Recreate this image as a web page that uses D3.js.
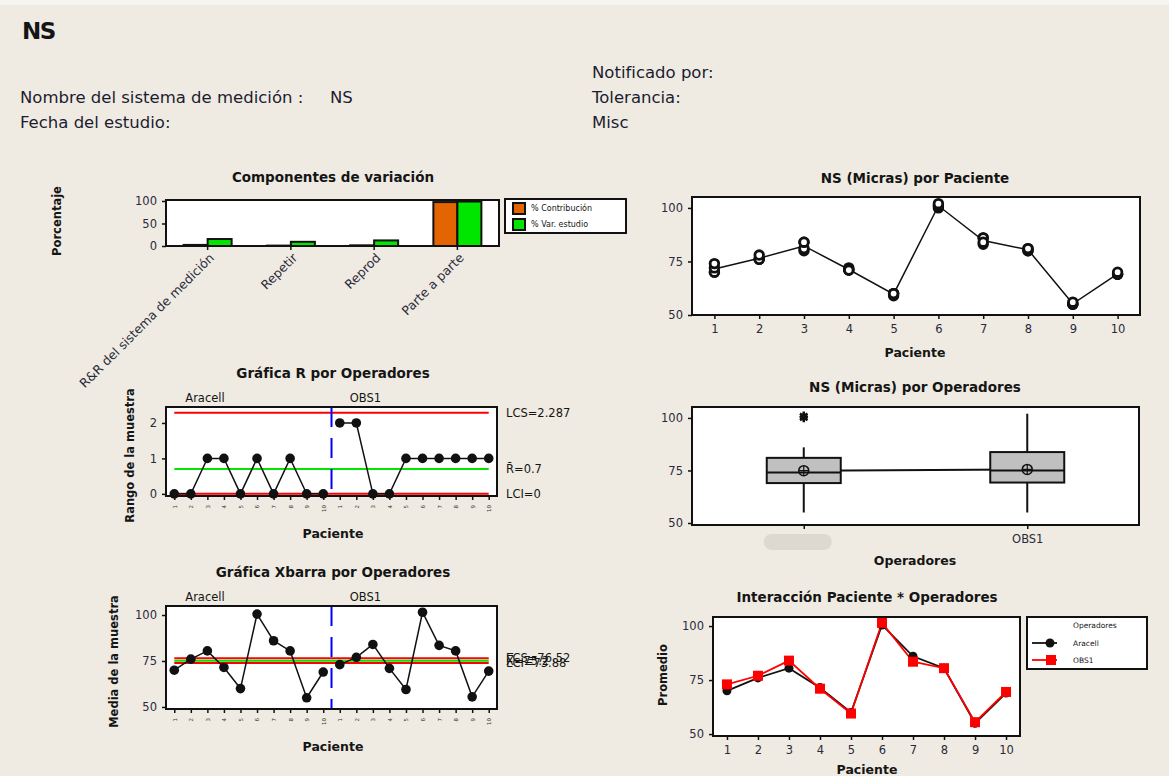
<!DOCTYPE html>
<html lang="es">
<head>
<meta charset="UTF-8"/>
<title>NS - Estudio R&amp;R</title>
<script src="https://d3js.org/d3.v7.min.js"></script>
<style>
  body { margin: 0; background: #efebe2; }
  text { font-family: "DejaVu Sans", Verdana, sans-serif; fill: #151515; }
  .tit { font-weight: bold; font-size: 13.5px; }
  .lab { font-weight: bold; font-size: 12.5px; }
  .tick text { font-size: 11.5px; }
</style>
</head>
<body>
<script>
// ---- datos ----
var pacientes = [1, 2, 3, 4, 5, 6, 7, 8, 9, 10];
var operadores = ["Aracell", "OBS1"];

// dos lecturas por paciente y operador (micras)
var aracellA = [70, 76, 80, 71, 60, 100, 86, 80, 55, 69];
var aracellB = [70, 76, 81, 72, 60, 101, 86, 81, 55, 69];
var obs1A    = [72, 76, 84, 71, 59, 101, 83, 80, 55, 69];
var obs1B    = [74, 78, 84, 71, 60, 102, 84, 81, 56, 70];

// componentes de variacion (%)
var componentes = ["R&R del sistema de medición", "Repetir", "Reprod", "Parte a parte"];
var pctContribucion = [2.4, 0.9, 1.5, 97.6];
var pctVarEstudio = [15.5, 9.3, 12.4, 98.8];

// limites de control
var rLimites = [2.287, 0.7, 0];
var rEtiquetas = ["LCS=2.287", "R\u0304=0.7", "LCI=0"];
var xLimites = [76.52, 75.2, 73.88];
var xEtiquetas = ["LCS=76.52", "X\u033F=75.2", "LCI=73.88"];

// ---- valores derivados ----
var lecturas = [[aracellA, aracellB], [obs1A, obs1B]];
var medias = lecturas.map(function(op) {
  return pacientes.map(function(p, i) { return (op[0][i] + op[1][i]) / 2; });
});
var rangos = lecturas.map(function(op) {
  return pacientes.map(function(p, i) { return Math.abs(op[0][i] - op[1][i]); });
});

var svg = d3.select("body").append("svg")
  .attr("width", 1169).attr("height", 776);

svg.append("rect").attr("width", 1169).attr("height", 776).attr("fill", "#efebe2");
svg.append("rect").attr("width", 1169).attr("height", 5).attr("fill", "#f7f5f0");

// ---- encabezado ----
svg.append("text").attr("x", 22).attr("y", 39)
  .style("font-weight", "bold").style("font-size", "23px").style("letter-spacing", "-1.5px")
  .text("NS");
var hdr = [
  [20, 103, "Nombre del sistema de medición :"], [330, 103, "NS"],
  [20, 128, "Fecha del estudio:"],
  [592, 78, "Notificado por:"], [592, 103, "Tolerancia:"], [592, 128, "Misc"]
];
svg.selectAll("text.hdr").data(hdr).enter().append("text")
  .attr("class", "hdr")
  .attr("x", function(d) { return d[0]; })
  .attr("y", function(d) { return d[1]; })
  .style("font-size", "16.5px").style("fill", "#1c1c30")
  .text(function(d) { return d[2]; });

// ---- utilidades ----
function marco(x0, y0, x1, y1) {
  svg.append("rect").attr("x", x0).attr("y", y0)
    .attr("width", x1 - x0).attr("height", y1 - y0)
    .attr("fill", "white");
}
function borde(x0, y0, x1, y1) {
  svg.append("rect").attr("x", x0).attr("y", y0)
    .attr("width", x1 - x0).attr("height", y1 - y0)
    .attr("fill", "none").attr("stroke", "#111").attr("stroke-width", 2);
}
function titulo(x, y, t) {
  svg.append("text").attr("class", "tit").attr("x", x).attr("y", y)
    .attr("text-anchor", "middle").text(t);
}
function etiqueta(x, y, t) {
  svg.append("text").attr("class", "lab").attr("x", x).attr("y", y)
    .attr("text-anchor", "middle").text(t);
}
function etiquetaY(x, y, t) {
  svg.append("text").attr("class", "lab").style("font-size", "11.5px")
    .attr("transform", "translate(" + x + "," + y + ") rotate(-90)")
    .attr("text-anchor", "middle").attr("dy", "0.35em").text(t);
}
function ejeY(y, x0, ticks) {
  var g = svg.append("g").attr("transform", "translate(" + x0 + ",0)")
    .call(d3.axisLeft(y).tickValues(ticks).tickFormat(d3.format("d")).tickSize(4).tickPadding(5));
  g.select(".domain").remove();
  g.selectAll("line").attr("stroke", "#111").attr("stroke-width", 1.5);
  g.selectAll("text").style("fill", "#2a2a3a");
  return g;
}
function ejeX(x, y0) {
  var g = svg.append("g").attr("transform", "translate(0," + y0 + ")")
    .call(d3.axisBottom(x).tickSize(4).tickPadding(6));
  g.select(".domain").remove();
  g.selectAll("line").attr("stroke", "#111").attr("stroke-width", 1.5);
  g.selectAll("text").style("fill", "#2a2a3a");
  return g;
}

// =========== Componentes de variacion ===========
(function() {
  var x0 = 166, x1 = 499, y0 = 200, y1 = 246;
  marco(x0, y0, x1, y1);
  var x = d3.scaleBand().domain(componentes).range([x0, x1]);
  var y = d3.scaleLinear().domain([0, 102.2]).range([y1, y0]);
  var bw = 24;
  var g = svg.append("g");
  g.selectAll("rect.c").data(pctContribucion).enter().append("rect")
    .attr("x", function(d, i) { return x(componentes[i]) + x.bandwidth() / 2 - bw; })
    .attr("y", function(d) { return y(d); })
    .attr("width", bw).attr("height", function(d) { return y(0) - y(d); })
    .attr("fill", "#e36400").attr("stroke", "#111").attr("stroke-width", 2);
  g.selectAll("rect.v").data(pctVarEstudio).enter().append("rect")
    .attr("x", function(d, i) { return x(componentes[i]) + x.bandwidth() / 2; })
    .attr("y", function(d) { return y(d); })
    .attr("width", bw).attr("height", function(d) { return y(0) - y(d); })
    .attr("fill", "#00e600").attr("stroke", "#111").attr("stroke-width", 2);
  borde(x0, y0, x1, y1);
  ejeY(y, x0, [0, 50, 100]);
  var gx = ejeX(x, y1);
  gx.selectAll("text")
    .style("font-size", "12.5px")
    .attr("text-anchor", "end")
    .attr("transform", "translate(3,3) rotate(-45)")
    .attr("dy", "0.3em").attr("dx", "-0.3em")
    .attr("y", 6).attr("x", 0);
  titulo(333, 182, "Componentes de variación");
  etiquetaY(57, 221, "Porcentaje");
  // leyenda
  svg.append("rect").attr("x", 505).attr("y", 199).attr("width", 121).attr("height", 34)
    .attr("fill", "white").attr("stroke", "#111").attr("stroke-width", 2);
  var ley = [["% Contribución", "#e36400"], ["% Var. estudio", "#00e600"]];
  ley.forEach(function(d, i) {
    svg.append("rect").attr("x", 513).attr("y", 203 + i * 16).attr("width", 12).attr("height", 11)
      .attr("fill", d[1]).attr("stroke", "#111").attr("stroke-width", 2);
    svg.append("text").attr("x", 531).attr("y", 211 + i * 16)
      .style("font-size", "8px").text(d[0]);
  });
})();

// =========== Graficas de control por operador ===========
function graficaControl(cfg) {
  var x0 = 166, x1 = 497;
  marco(x0, cfg.y0, x1, cfg.y1);
  var idx = d3.range(pacientes.length * 2);
  var x = d3.scalePoint().domain(idx).range([x0, x1]).padding(0.5);
  var y = d3.scaleLinear().domain(cfg.dom).range([cfg.y1, cfg.y0]);
  var valores = cfg.valores[0].concat(cfg.valores[1]);
  var colores = ["#ff0000", "#00e600", "#ff0000"];
  cfg.limites.forEach(function(v, i) {
    svg.append("line").attr("x1", x(0)).attr("x2", x(idx.length - 1))
      .attr("y1", y(v)).attr("y2", y(v))
      .attr("stroke", colores[i]).attr("stroke-width", 2);
  });
  var xm = (x(9) + x(10)) / 2;
  svg.append("line").attr("x1", xm).attr("x2", xm)
    .attr("y1", cfg.y0).attr("y2", cfg.y1)
    .attr("stroke", "#0000ff").attr("stroke-width", 2)
    .attr("stroke-dasharray", "20,11");
  [0, 1].forEach(function(k) {
    var sub = idx.slice(k * 10, k * 10 + 10);
    svg.append("path").datum(sub)
      .attr("fill", "none").attr("stroke", "#111").attr("stroke-width", 1.5)
      .attr("d", d3.line().x(function(d) { return x(d); })
                          .y(function(d) { return y(valores[d]); }));
  });
  svg.selectAll(null).data(idx).enter().append("circle")
    .attr("cx", function(d) { return x(d); })
    .attr("cy", function(d) { return y(valores[d]); })
    .attr("r", 4.8).attr("fill", "#111");
  borde(x0, cfg.y0, x1, cfg.y1);
  ejeY(y, x0, cfg.ticks);
  var gx = ejeX(x, cfg.y1);
  gx.selectAll("text")
    .text(function(d) { return pacientes[d % 10]; })
    .style("font-size", "5.5px").style("fill", "#333")
    .attr("transform", "rotate(-90)").attr("text-anchor", "end")
    .attr("x", -9).attr("y", 0).attr("dy", "0.35em");
  // etiquetas de operador
  svg.append("text").attr("x", x(0) + 11).attr("y", cfg.y0 - 5)
    .style("font-size", "11.5px").text(operadores[0]);
  svg.append("text").attr("x", x(10) + 10).attr("y", cfg.y0 - 5)
    .style("font-size", "11.5px").text(operadores[1]);
  cfg.limites.forEach(function(v, i) {
    svg.append("text").attr("x", x1 + 9).attr("y", y(v)).attr("dy", "0.35em")
      .style("font-size", "11.5px").text(cfg.etiquetas[i]);
  });
  titulo(333, cfg.y0 - 29, cfg.titulo);
  etiqueta(333, cfg.y1 + 42, "Paciente");
  etiquetaY(cfg.ylx, (cfg.y0 + cfg.y1) / 2 + 4, cfg.ylab);
}

graficaControl({
  y0: 407, y1: 496, dom: [-0.06, 2.45], ticks: [0, 1, 2],
  valores: rangos, limites: rLimites, etiquetas: rEtiquetas,
  titulo: "Gráfica R por Operadores", ylab: "Rango de la muestra", ylx: 130
});
graficaControl({
  y0: 606, y1: 709, dom: [48.9, 104.9], ticks: [50, 75, 100],
  valores: medias, limites: xLimites, etiquetas: xEtiquetas,
  titulo: "Gráfica Xbarra por Operadores", ylab: "Media de la muestra", ylx: 114
});

// =========== NS (Micras) por Paciente ===========
(function() {
  var x0 = 692, x1 = 1140, y0 = 197, y1 = 315;
  marco(x0, y0, x1, y1);
  var x = d3.scalePoint().domain(pacientes).range([x0, x1]).padding(0.5);
  var y = d3.scaleLinear().domain([50, 105.1]).range([y1, y0]);
  var todos = [];
  pacientes.forEach(function(p, i) {
    [aracellA, aracellB, obs1A, obs1B].forEach(function(s) { todos.push([p, s[i]]); });
  });
  var mediaP = pacientes.map(function(p, i) {
    return d3.mean([aracellA[i], aracellB[i], obs1A[i], obs1B[i]]);
  });
  svg.append("path").datum(pacientes)
    .attr("fill", "none").attr("stroke", "#111").attr("stroke-width", 1.5)
    .attr("d", d3.line().x(function(d) { return x(d); })
                        .y(function(d, i) { return y(mediaP[i]); }));
  svg.selectAll(null).data(todos).enter().append("circle")
    .attr("cx", function(d) { return x(d[0]); })
    .attr("cy", function(d) { return y(d[1]); })
    .attr("r", 4.3).attr("fill", "white").attr("stroke", "#111").attr("stroke-width", 2.8);
  borde(x0, y0, x1, y1);
  ejeY(y, x0, [50, 75, 100]);
  ejeX(x, y1);
  titulo(915, 183, "NS (Micras) por Paciente");
  etiqueta(915, 357, "Paciente");
})();

// =========== NS (Micras) por Operadores ===========
function cuartil(v, q) {
  var s = v.slice().sort(d3.ascending);
  var pos = q * (s.length + 1) - 1;
  var lo = Math.floor(pos), f = pos - lo;
  return s[lo] + f * (s[lo + 1] - s[lo]);
}
(function() {
  var x0 = 692, x1 = 1139, y0 = 407, y1 = 525;
  marco(x0, y0, x1, y1);
  var x = d3.scalePoint().domain(operadores).range([x0, x1]).padding(0.5);
  var y = d3.scaleLinear().domain([49.05, 105.2]).range([y1, y0]);
  var stats = lecturas.map(function(op, k) {
    var v = op[0].concat(op[1]);
    var q1 = cuartil(v, 0.25), q3 = cuartil(v, 0.75), med = cuartil(v, 0.5);
    var iqr = q3 - q1;
    var dentro = v.filter(function(d) { return d >= q1 - 1.5 * iqr && d <= q3 + 1.5 * iqr; });
    return {
      op: operadores[k], q1: q1, q3: q3, med: med, media: d3.mean(v),
      lo: d3.min(dentro), hi: d3.max(dentro),
      out: v.filter(function(d) { return d < q1 - 1.5 * iqr || d > q3 + 1.5 * iqr; })
    };
  });
  svg.append("path").datum(stats)
    .attr("fill", "none").attr("stroke", "#111").attr("stroke-width", 2)
    .attr("d", d3.line().x(function(d) { return x(d.op); })
                        .y(function(d) { return y(d.media); }));
  var bw = 74;
  stats.forEach(function(s) {
    var cx = x(s.op);
    svg.append("line").attr("x1", cx).attr("x2", cx).attr("y1", y(s.hi)).attr("y2", y(s.q3))
      .attr("stroke", "#111").attr("stroke-width", 2);
    svg.append("line").attr("x1", cx).attr("x2", cx).attr("y1", y(s.q1)).attr("y2", y(s.lo))
      .attr("stroke", "#111").attr("stroke-width", 2);
    svg.append("rect").attr("x", cx - bw / 2).attr("y", y(s.q3))
      .attr("width", bw).attr("height", y(s.q1) - y(s.q3))
      .attr("fill", "#c0c0c0").attr("stroke", "#111").attr("stroke-width", 2);
    svg.append("line").attr("x1", cx - bw / 2).attr("x2", cx + bw / 2)
      .attr("y1", y(s.med)).attr("y2", y(s.med))
      .attr("stroke", "#111").attr("stroke-width", 2);
    svg.append("circle").attr("cx", cx).attr("cy", y(s.media)).attr("r", 5)
      .attr("fill", "none").attr("stroke", "#111").attr("stroke-width", 1.5);
    svg.append("path")
      .attr("d", "M" + (cx - 5) + "," + y(s.media) + "h10M" + cx + "," + (y(s.media) - 5) + "v10")
      .attr("stroke", "#111").attr("stroke-width", 1.2);
    s.out.forEach(function(o) {
      svg.append("path")
        .attr("transform", "translate(" + cx + "," + y(o) + ")")
        .attr("d", d3.symbol().type(d3.symbolAsterisk).size(55)())
        .attr("stroke", "#111").attr("stroke-width", 2.5).attr("fill", "none");
    });
  });
  borde(x0, y0, x1, y1);
  ejeY(y, x0, [50, 75, 100]);
  var gx = ejeX(x, y1);
  // la etiqueta del primer operador aparece tapada en la figura original
  gx.selectAll("text").filter(function(d) { return d === "Aracell"; }).remove();
  svg.append("rect").attr("x", x("Aracell") - 40).attr("y", 534)
    .attr("width", 68).attr("height", 16).attr("rx", 8)
    .attr("fill", "#dcd9d1");
  titulo(915, 392, "NS (Micras) por Operadores");
  etiqueta(915, 565, "Operadores");
})();

// =========== Interaccion Paciente * Operadores ===========
(function() {
  var x0 = 713, x1 = 1020, y0 = 617, y1 = 736;
  marco(x0, y0, x1, y1);
  var x = d3.scalePoint().domain(pacientes).range([x0, x1]).padding(0.45);
  var y = d3.scaleLinear().domain([49.1, 104.2]).range([y1, y0]);
  var colores = ["#111", "#ff0000"];
  medias.forEach(function(serie, k) {
    svg.append("path").datum(serie)
      .attr("fill", "none").attr("stroke", colores[k]).attr("stroke-width", 1.8)
      .attr("d", d3.line().x(function(d, i) { return x(pacientes[i]); })
                          .y(function(d) { return y(d); }));
  });
  svg.selectAll(null).data(medias[0]).enter().append("circle")
    .attr("cx", function(d, i) { return x(pacientes[i]); })
    .attr("cy", function(d) { return y(d); })
    .attr("r", 4.5).attr("fill", "#111");
  svg.selectAll(null).data(medias[1]).enter().append("rect")
    .attr("x", function(d, i) { return x(pacientes[i]) - 5; })
    .attr("y", function(d) { return y(d) - 5; })
    .attr("width", 10).attr("height", 10).attr("fill", "#ff0000");
  borde(x0, y0, x1, y1);
  ejeY(y, x0, [50, 75, 100]);
  ejeX(x, y1);
  titulo(867, 602, "Interacción Paciente * Operadores");
  etiqueta(867, 774, "Paciente");
  etiquetaY(663, 675, "Promedio");
  // leyenda
  svg.append("rect").attr("x", 1027).attr("y", 617).attr("width", 120).attr("height", 52)
    .attr("fill", "white").attr("stroke", "#111").attr("stroke-width", 2);
  svg.append("text").attr("x", 1073).attr("y", 628).style("font-size", "7.5px").text("Operadores");
  operadores.forEach(function(o, k) {
    var yy = 643 + k * 17;
    svg.append("line").attr("x1", 1032).attr("x2", 1057).attr("y1", yy).attr("y2", yy)
      .attr("stroke", colores[k]).attr("stroke-width", 1.8);
    if (k === 0) {
      svg.append("circle").attr("cx", 1050).attr("cy", yy).attr("r", 4.5).attr("fill", "#111");
    } else {
      svg.append("rect").attr("x", 1046).attr("y", yy - 5).attr("width", 10).attr("height", 10)
        .attr("fill", "#ff0000");
    }
    svg.append("text").attr("x", 1073).attr("y", yy).attr("dy", "0.35em")
      .style("font-size", "7.5px").text(o);
  });
})();
</script>
</body>
</html>
